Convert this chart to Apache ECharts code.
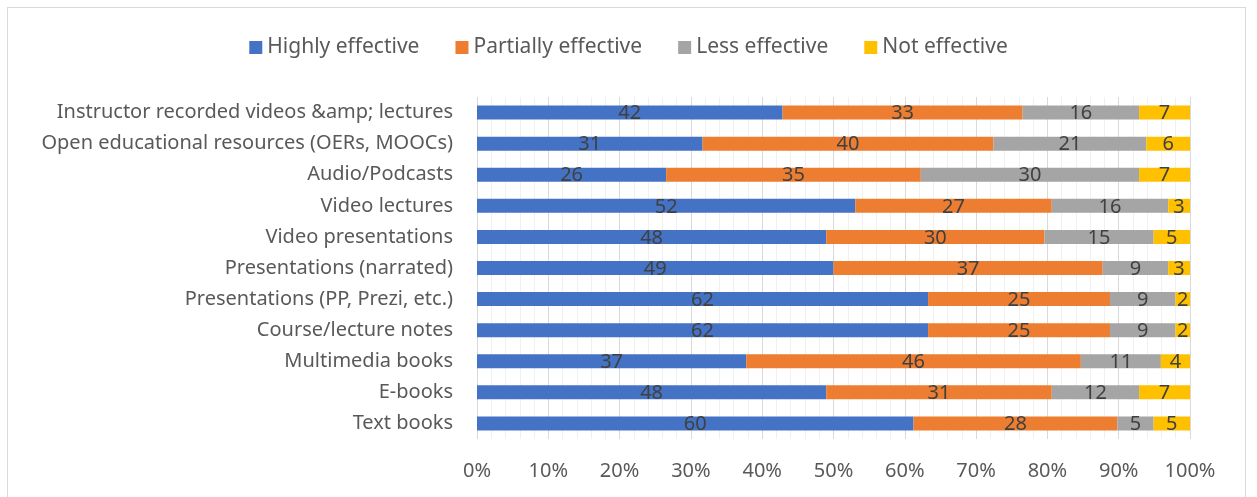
<!DOCTYPE html>
<html>
<head>
<meta charset="utf-8">
<script src="https://cdn.jsdelivr.net/npm/echarts@6/dist/echarts.min.js"></script>
<style>
  html, body { margin: 0; padding: 0; background: #fff; }
  #frame { position: absolute; left: 7px; top: 7px; width: 1239px; height: 500px; border: 1px solid #d9d9d9; box-sizing: border-box; }
  #chart { position: absolute; left: 0; top: 0; width: 1257px; height: 497px; }
</style>
</head>
<body>
<div id="frame"></div>
<div id="chart"></div>
<script>
// Teaching materials rated by respondents
const categories = [
  'Instructor recorded videos &amp; lectures',
  'Open educational resources (OERs, MOOCs)',
  'Audio/Podcasts',
  'Video lectures',
  'Video presentations',
  'Presentations (narrated)',
  'Presentations (PP, Prezi, etc.)',
  'Course/lecture notes',
  'Multimedia books',
  'E-books',
  'Text books'
];
const seriesNames = ['Highly effective', 'Partially effective', 'Less effective', 'Not effective'];
const highly    = [42, 31, 26, 52, 48, 49, 62, 62, 37, 48, 60];
const partially = [33, 40, 35, 27, 30, 37, 25, 25, 46, 31, 28];
const less      = [16, 21, 30, 16, 15,  9,  9,  9, 11, 12,  5];
const notEff    = [ 7,  6,  7,  3,  5,  3,  2,  2,  4,  7,  5];
const xTicks = [0, 10, 20, 30, 40, 50, 60, 70, 80, 90, 100];

const colors = ['#4472c4', '#ed7d31', '#a5a5a5', '#ffc000'];
const raw = [highly, partially, less, notEff];
// each row is stretched to 100% of its own total
const totals = categories.map((_, i) => raw.reduce((s, arr) => s + arr[i], 0));

const font = 'Noto Sans';
const chart = echarts.init(document.getElementById('chart'), null, { renderer: 'canvas' });
chart.setOption({
  animation: false,
  color: colors,
  textStyle: { fontFamily: font },
  legend: {
    top: 32,
    left: 'center',
    itemWidth: 13,
    itemHeight: 13,
    itemGap: 36,
    icon: 'rect',
    textStyle: { fontSize: 21, color: '#595959', fontFamily: font },
    data: seriesNames
  },
  grid: { left: 477, right: 67, top: 97, bottom: 58, containLabel: false },
  xAxis: {
    type: 'value',
    min: xTicks[0],
    max: xTicks[xTicks.length - 1],
    interval: 10,
    axisLine: { show: false },
    axisTick: { show: false },
    axisLabel: { formatter: '{value}%', fontSize: 20, color: '#595959', margin: 22, fontFamily: font },
    splitLine: { show: true, lineStyle: { color: '#d9d9d9', width: 1 } },
    minorTick: { show: false, splitNumber: 5 },
    minorSplitLine: { show: true, lineStyle: { color: '#f0f0f0', width: 1 } }
  },
  yAxis: {
    type: 'category',
    inverse: true,
    data: categories,
    axisLine: { show: false },
    axisTick: { show: false },
    axisLabel: { fontSize: 20, color: '#595959', margin: 24, fontFamily: font }
  },
  series: raw.map((arr, k) => ({
    name: seriesNames[k],
    type: 'bar',
    stack: 'total',
    barWidth: 14,
    data: arr.map((v, i) => v / totals[i] * 100),
    label: {
      show: true,
      position: 'inside',
      offset: [0, 1],
      fontSize: 20,
      color: '#404040',
      fontFamily: font,
      formatter: p => String(arr[p.dataIndex])
    }
  }))
});
</script>
</body>
</html>
